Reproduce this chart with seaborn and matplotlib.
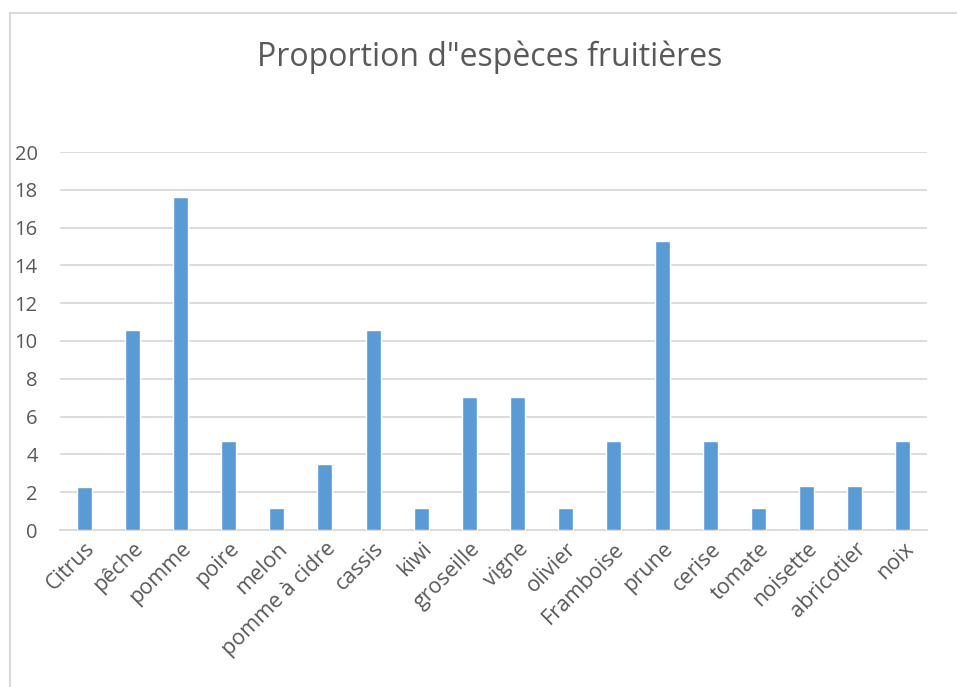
import numpy as np
import pandas as pd
import seaborn as sns
import matplotlib.pyplot as plt
from matplotlib.lines import Line2D

especes = ["Citrus", "pêche", "pomme", "poire", "melon", "pomme à cidre",
           "cassis", "kiwi", "groseille", "vigne", "olivier", "Framboise",
           "prune", "cerise", "tomate", "noisette", "abricotier", "noix"]
proportions = [2.3, 10.6, 17.6, 4.7, 1.15, 3.5,
               10.6, 1.15, 7.05, 7.05, 1.15, 4.7,
               15.3, 4.7, 1.15, 2.35, 2.35, 4.7]
y_ticks = [0, 2, 4, 6, 8, 10, 12, 14, 16, 18, 20]

df = pd.DataFrame({"espece": especes, "proportion": proportions})

sns.set_theme(style="white")
plt.rcParams["font.family"] = ["Open Sans", "DejaVu Sans"]

W, H = 957, 687
fig = plt.figure(figsize=(W / 100, H / 100), dpi=100)
ax = fig.add_axes([60 / W, 1 - 530 / H, (927 - 60) / W, (530 - 152) / H])

sns.barplot(data=df, x="espece", y="proportion", color="#5B9BD5",
            width=0.31, saturation=1, ax=ax, zorder=3)

ax.set_ylim(0, 20)
ax.set_yticks(y_ticks)
ax.set_xlim(-0.5, len(especes) - 0.5)
ax.yaxis.grid(True, color="#D9D9D9", linewidth=1.3, zorder=0)
for s in ["top", "right", "left"]:
    ax.spines[s].set_visible(False)
ax.spines["bottom"].set_color("#D9D9D9")
ax.spines["bottom"].set_linewidth(1.3)

ax.set_xlabel("")
ax.set_ylabel("")
ax.tick_params(axis="y", labelsize=14.5, labelcolor="#595959", length=0, pad=16)
ax.tick_params(axis="x", labelsize=15.5, labelcolor="#595959", length=0, pad=6)
plt.setp(ax.get_xticklabels(), rotation=45, ha="right", rotation_mode="anchor")

fig.text(490 / W, 1 - 57 / H, "Proportion d\"espèces fruitières",
         ha="center", va="center", fontsize=23, color="#595959")

# chart area border
fig.add_artist(Line2D([10 / W, 10 / W], [0, 1 - 13 / H], transform=fig.transFigure,
                      color="#D9D9D9", linewidth=1.5))
fig.add_artist(Line2D([10 / W, 1], [1 - 13 / H, 1 - 13 / H], transform=fig.transFigure,
                      color="#D9D9D9", linewidth=1.5))

fig.savefig("out.png", dpi=100, facecolor="white")
